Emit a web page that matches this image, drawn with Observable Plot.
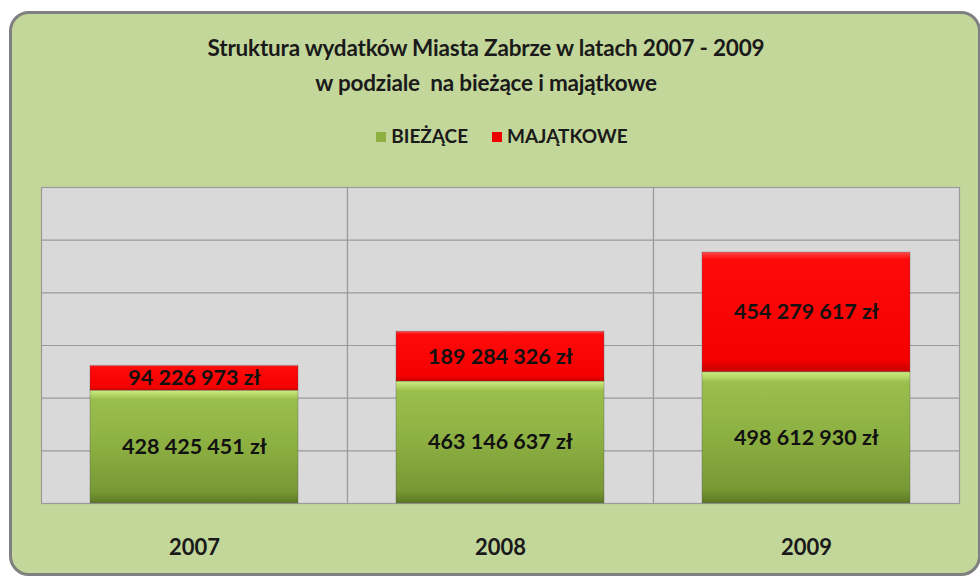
<!DOCTYPE html>
<html>
<head>
<meta charset="utf-8">
<script src="https://cdn.jsdelivr.net/npm/d3@7"></script>
<script src="https://cdn.jsdelivr.net/npm/@observablehq/plot@0.6"></script>
<style>
  html, body { margin: 0; padding: 0; background: #fff; }
  #wrap { position: relative; width: 980px; height: 582px; overflow: hidden; font-family: Lato, "Open Sans", sans-serif; }
  #box { position: absolute; left: 9px; top: 11px; width: 972px; height: 565px; box-sizing: border-box;
         background: #c4d79b; border: 3px solid #808080; border-radius: 20px; }
  #title { position: absolute; left: 0; top: 30px; width: 972px; text-align: center; font-weight: bold;
           font-size: 22.5px; line-height: 35px; color: #1a1a1a; letter-spacing: -0.2px; }
  #legend { position: absolute; left: 0; top: 124px; width: 1004px; text-align: center; font-weight: bold;
            font-size: 19px; color: #1a1a1a; }
  #legend span.sw { display: inline-block; width: 10px; height: 10px; margin-right: 5px; vertical-align: 1px; }
  #legend span.item { margin: 0 12px; }
  #chart { position: absolute; left: 0; top: 160px; }
</style>
</head>
<body>
<div id="wrap">
  <div id="box"></div>
  <div id="title">Struktura wydatków Miasta Zabrze w latach 2007 - 2009<br>w podziale&nbsp; na bieżące i majątkowe</div>
  <div id="legend"></div>
  <div id="chart"></div>
</div>
<script>
const years = ["2007", "2008", "2009"];
const types = ["BIEŻĄCE", "MAJĄTKOWE"];
const biezace = [428425451, 463146637, 498612930];
const majatkowe = [94226973, 189284326, 454279617];
const yTicks = [0, 200e6, 400e6, 600e6, 800e6, 1000e6, 1200e6];
const legendColors = ["#8db040", "#ee0000"];

const data = [];
years.forEach((yr, i) => {
  data.push({year: yr, type: types[0], value: biezace[i]});
  data.push({year: yr, type: types[1], value: majatkowe[i]});
});

const fmt = v => d3.format(",")(v).replace(/,/g, " ") + " zł";

// legend
const leg = document.getElementById("legend");
types.forEach((t, i) => {
  const s = document.createElement("span");
  s.className = "item";
  s.innerHTML = `<span class="sw" style="background:${legendColors[i]}"></span>${t}`;
  leg.appendChild(s);
});

const chart = Plot.plot({
  width: 980,
  height: 403,
  marginLeft: 40,
  marginRight: 20,
  marginTop: 27,
  marginBottom: 60,
  style: {background: "transparent", fontFamily: "Lato, 'Open Sans', sans-serif"},
  fx: {domain: years, padding: 0, label: null},
  y: {domain: [0, 1200e6], axis: null},
  color: {domain: types, range: ["url(#gGreen)", "url(#gRed)"]},
  marks: [
    Plot.frame({fill: "#d9d9d9", stroke: "#9a9a9a", strokeWidth: 1.2}),
    Plot.gridY(yTicks, {stroke: "#9a9a9a", strokeOpacity: 1, strokeWidth: 1.2}),
    Plot.barY(data, {fx: "year", y: "value", fill: "type", insetLeft: 49, insetRight: 49,
                     stroke: "#5a5a5a", strokeOpacity: 0.35, strokeWidth: 1}),
    Plot.text(data, Plot.stackY({fx: "year", y: "value", z: "type", text: d => fmt(d.value),
                     fontSize: 21.5, fontWeight: "bold", fill: "#111", letterSpacing: "-0.3px"})),
    Plot.axisFx({anchor: "bottom", tickSize: 0, tickPadding: 36, fontSize: 22, fontWeight: "bold", label: null, fill: "#1a1a1a"})
  ]
});

chart.insertAdjacentHTML("afterbegin", `
<defs>
  <linearGradient id="gGreen" x1="0" y1="0" x2="0" y2="1">
    <stop offset="0" stop-color="#cdee80"/>
    <stop offset="0.045" stop-color="#b2d366"/>
    <stop offset="0.08" stop-color="#9bbf4d"/>
    <stop offset="0.5" stop-color="#8caf42"/>
    <stop offset="0.9" stop-color="#779834"/>
    <stop offset="1" stop-color="#5c7823"/>
  </linearGradient>
  <linearGradient id="gRed" x1="0" y1="0" x2="0" y2="1">
    <stop offset="0" stop-color="#ff4a4a"/>
    <stop offset="0.06" stop-color="#ff0a0a"/>
    <stop offset="0.9" stop-color="#f40000"/>
    <stop offset="1" stop-color="#c80000"/>
  </linearGradient>
</defs>`);

document.getElementById("chart").appendChild(chart);
</script>
</body>
</html>
